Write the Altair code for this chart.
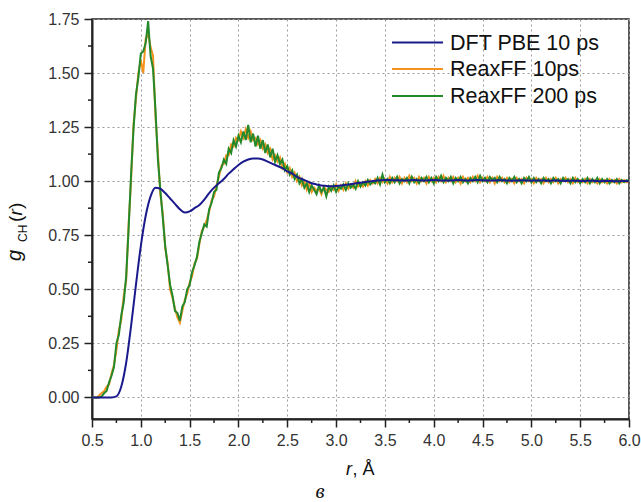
import altair as alt
import pandas as pd

# ---------------- data ----------------
r_dft = [round(0.5 + 0.05 * i, 3) for i in range(111)]
g_dft = [
    0.000, 0.000, 0.000, 0.000, 0.000, 0.005, 0.050, 0.160, 0.330, 0.520,
    0.700, 0.840, 0.930, 0.970, 0.965, 0.945, 0.920, 0.895, 0.870, 0.855,
    0.860, 0.875, 0.890, 0.915, 0.945, 0.970, 0.990, 1.010, 1.035, 1.055,
    1.075, 1.090, 1.100, 1.105, 1.105, 1.100, 1.090, 1.080, 1.070, 1.060,
    1.045, 1.035, 1.020, 1.010, 1.000, 0.990, 0.985, 0.980, 0.978, 0.977,
    0.978, 0.980, 0.983, 0.986, 0.990, 0.993, 0.996, 0.999, 1.002, 1.004,
    1.005, 1.005, 1.004, 1.004, 1.003, 1.004, 1.005, 1.004, 1.003, 1.004,
    1.005, 1.004, 1.003, 1.003, 1.004, 1.005, 1.004, 1.003, 1.004, 1.005,
    1.004, 1.003, 1.003, 1.004, 1.004, 1.003, 1.002, 1.003, 1.004, 1.003,
    1.002, 1.003, 1.003, 1.002, 1.002, 1.003, 1.002, 1.001, 1.002, 1.002,
    1.001, 1.001, 1.002, 1.001, 1.000, 1.001, 1.001, 1.000, 1.000, 1.001,
    1.000,
]

r_reax = [round(0.5 + 0.025 * i, 3) for i in range(221)]
g_reax_200 = [
    0.000, 0.000, 0.000, 0.000, 0.005, 0.020, 0.030, 0.070, 0.100, 0.140,
    0.250, 0.290, 0.380, 0.440, 0.560, 0.780, 1.030, 1.240, 1.400, 1.480,
    1.590, 1.600, 1.640, 1.740, 1.580, 1.520, 1.330, 1.100, 0.960, 0.830,
    0.700, 0.610, 0.520, 0.470, 0.400, 0.390, 0.355, 0.420, 0.440, 0.500,
    0.520, 0.580, 0.610, 0.650, 0.720, 0.760, 0.800, 0.790, 0.870, 0.900,
    0.950, 0.960, 1.040, 1.060, 1.100, 1.080, 1.150, 1.130, 1.190, 1.160,
    1.210, 1.180, 1.230, 1.190, 1.260, 1.180, 1.220, 1.160, 1.210, 1.150,
    1.190, 1.130, 1.170, 1.110, 1.150, 1.090, 1.120, 1.080, 1.100, 1.050,
    1.070, 1.030, 1.050, 1.010, 1.030, 0.990, 1.010, 0.970, 0.990, 0.950,
    0.980, 0.960, 0.940, 0.980, 0.950, 0.970, 0.930, 0.975, 0.955, 0.980,
    0.950, 0.975, 0.965, 0.985, 0.960, 0.990, 0.970, 0.985, 0.965, 1.000,
    0.975, 0.995, 0.980, 1.005, 0.985, 1.000, 0.990, 1.015, 0.985, 1.030,
    0.995, 1.010, 0.990, 1.015, 0.995, 1.020, 0.990, 1.010, 1.000, 1.015,
    0.990, 1.020, 0.995, 1.010, 0.990, 1.015, 1.000, 1.020, 0.995, 1.015,
    0.990, 1.020, 1.000, 1.025, 0.995, 1.015, 1.000, 1.020, 0.990, 1.015,
    1.000, 1.020, 0.995, 1.010, 0.990, 1.015, 1.000, 1.020, 0.995, 1.025,
    1.000, 1.015, 0.995, 1.020, 1.005, 1.015, 0.995, 1.020, 1.000, 1.010,
    0.990, 1.015, 1.000, 1.020, 0.995, 1.010, 0.990, 1.015, 1.000, 1.020,
    0.995, 1.015, 0.995, 1.010, 0.990, 1.015, 1.000, 1.010, 0.990, 1.015,
    1.000, 1.010, 0.990, 1.015, 1.000, 1.010, 0.990, 1.015, 0.995, 1.010,
    0.990, 1.010, 0.995, 1.015, 0.990, 1.010, 0.995, 1.015, 0.990, 1.010,
    0.995, 1.010, 0.990, 1.005, 0.995, 1.010, 0.990, 1.005, 0.995, 1.005,
    1.000,
]
g_reax_10 = [
    0.000, 0.000, 0.000, 0.010, 0.020, 0.030, 0.050, 0.060, 0.110, 0.150,
    0.220, 0.310, 0.360, 0.470, 0.540, 0.800, 1.000, 1.260, 1.380, 1.500,
    1.560, 1.500, 1.660, 1.680, 1.620, 1.580, 1.300, 1.130, 0.940, 0.850,
    0.690, 0.620, 0.500, 0.460, 0.410, 0.370, 0.345, 0.400, 0.450, 0.480,
    0.530, 0.560, 0.620, 0.640, 0.710, 0.770, 0.790, 0.820, 0.860, 0.910,
    0.930, 0.980, 1.020, 1.070, 1.080, 1.120, 1.120, 1.170, 1.160, 1.200,
    1.190, 1.230, 1.200, 1.240, 1.200, 1.230, 1.190, 1.200, 1.170, 1.190,
    1.150, 1.170, 1.130, 1.150, 1.100, 1.120, 1.090, 1.110, 1.060, 1.080,
    1.040, 1.060, 1.020, 1.040, 1.000, 1.020, 0.980, 1.000, 0.960, 0.990,
    0.950, 0.970, 0.955, 0.965, 0.940, 0.975, 0.960, 0.950, 0.975, 0.960,
    0.985, 0.955, 0.980, 0.960, 0.990, 0.965, 0.985, 0.970, 1.000, 0.975,
    0.990, 0.975, 1.000, 0.980, 1.005, 0.990, 1.010, 0.990, 1.015, 0.995,
    1.010, 0.990, 1.020, 0.995, 1.015, 1.000, 1.020, 0.990, 1.015, 0.995,
    1.025, 1.000, 1.015, 0.990, 1.020, 1.000, 1.015, 0.990, 1.020, 1.000,
    1.015, 0.995, 1.020, 1.000, 1.025, 0.995, 1.015, 1.000, 1.020, 0.995,
    1.015, 0.990, 1.020, 1.000, 1.015, 0.995, 1.020, 1.000, 1.025, 0.995,
    1.015, 1.000, 1.020, 0.995, 1.015, 0.990, 1.020, 1.000, 1.015, 0.995,
    1.015, 0.995, 1.010, 0.990, 1.015, 1.000, 1.010, 0.990, 1.015, 1.000,
    1.010, 0.990, 1.015, 1.000, 1.010, 0.990, 1.015, 0.995, 1.010, 0.995,
    1.015, 0.990, 1.010, 1.000, 1.015, 0.995, 1.010, 0.990, 1.015, 0.995,
    1.005, 0.995, 1.010, 0.990, 1.010, 0.995, 1.005, 0.990, 1.010, 0.995,
    1.005, 0.990, 1.010, 0.995, 1.005, 0.990, 1.010, 0.995, 1.005, 0.995,
    1.000,
]

series_names = ["DFT PBE 10 ps", "ReaxFF 10ps", "ReaxFF 200 ps"]
series_colors = ["#1a1a8c", "#f5921e", "#23892a"]

x_ticks = [0.5, 1.0, 1.5, 2.0, 2.5, 3.0, 3.5, 4.0, 4.5, 5.0, 5.5, 6.0]
y_ticks = [0.0, 0.25, 0.5, 0.75, 1.0, 1.25, 1.5, 1.75]
x_minor = [0.75, 1.25, 1.75, 2.25, 2.75, 3.25, 3.75, 4.25, 4.75, 5.25, 5.75]
y_minor = [0.125, 0.375, 0.625, 0.875, 1.125, 1.375, 1.625]

# ---------------- chart ----------------
W, H = 537, 400
FONT = "Liberation Sans"

xs = alt.Scale(domain=[0.5, 6.0], nice=False, zero=False)
ys = alt.Scale(domain=[-0.1, 1.75], nice=False, zero=False)

axis_common = dict(title=None, grid=True, gridDash=[2, 3], gridColor="#9a9a9a",
                   gridWidth=1, tickSize=8, tickWidth=1.5, tickColor="#222",
                   domainColor="#222", domainWidth=2, labelFlush=False,
                   labelFontSize=16, labelColor="#333", labelFont=FONT,
                   labelPadding=5)
x_axis = alt.Axis(values=x_ticks, format=".1f", **axis_common)
y_axis = alt.Axis(values=y_ticks, format=".2f", **axis_common)

df_dft = pd.DataFrame({"r": r_dft, "g": g_dft})
df_10 = pd.DataFrame({"r": r_reax, "g": g_reax_10})
df_200 = pd.DataFrame({"r": r_reax, "g": g_reax_200})

def line(df, color, interp="linear"):
    return alt.Chart(df).mark_line(color=color, strokeWidth=2, interpolate=interp).encode(
        x=alt.X("r:Q", scale=xs, axis=x_axis),
        y=alt.Y("g:Q", scale=ys, axis=y_axis),
    )

l10 = line(df_10, series_colors[1])
l200 = line(df_200, series_colors[2])
ldft = line(df_dft, series_colors[0], interp="monotone")

minor_x = alt.Chart(pd.DataFrame({"r": x_minor})).mark_rule(color="#222", strokeWidth=1.5).encode(
    x=alt.X("r:Q", scale=xs, axis=x_axis), y=alt.value(H), y2=alt.value(H + 4))
minor_y = alt.Chart(pd.DataFrame({"g": y_minor})).mark_rule(color="#222", strokeWidth=1.5).encode(
    y=alt.Y("g:Q", scale=ys, axis=y_axis), x=alt.value(0), x2=alt.value(-4))

one = pd.DataFrame({"d": [0]})

def txt(s, x, y, size, style="normal", angle=0, align="left", baseline="alphabetic",
        font=FONT, color="#111"):
    kw = dict(text=s, fontSize=size, fontStyle=style, align=align, baseline=baseline,
              font=font, color=color)
    if angle:
        kw["angle"] = angle
    return alt.Chart(one).mark_text(**kw).encode(x=alt.value(x), y=alt.value(y))

# legend
legend_layers = []
leg_y = [23.5, 50, 77]
for name, col, yy in zip(series_names, series_colors, leg_y):
    legend_layers.append(
        alt.Chart(one).mark_rule(color=col, strokeWidth=2).encode(
            x=alt.value(300), x2=alt.value(351), y=alt.value(yy)))
    legend_layers.append(txt(name, 358, yy + 1, 21.5, baseline="middle"))

# axis titles
titles = [
    txt("r", 254, 456, 18, style="italic"),
    txt(", Å", 260.5, 456, 18),
    txt("g", -71, 242, 20, style="italic", angle=270),
    txt("CH", -65, 223, 12, angle=270),
    txt("(", -70, 203, 19, angle=270),
    txt("r", -70, 196.5, 19, style="italic", angle=270),
    txt(")", -70, 190, 19, angle=270),
    txt("в", 228, 479, 21, style="italic", align="center", font="Liberation Serif"),
]

chart = alt.layer(l10, l200, ldft, minor_x, minor_y, *legend_layers, *titles).properties(
    width=W, height=H,
    autosize=alt.AutoSizeParams(type="none"),
    padding={"left": 92, "top": 19, "right": 641 - 92 - W, "bottom": 502 - 19 - H},
    background="white",
).configure_view(stroke="#222", strokeWidth=1.5)

chart.save("out.html", embed_options={"renderer": "svg", "actions": False})
